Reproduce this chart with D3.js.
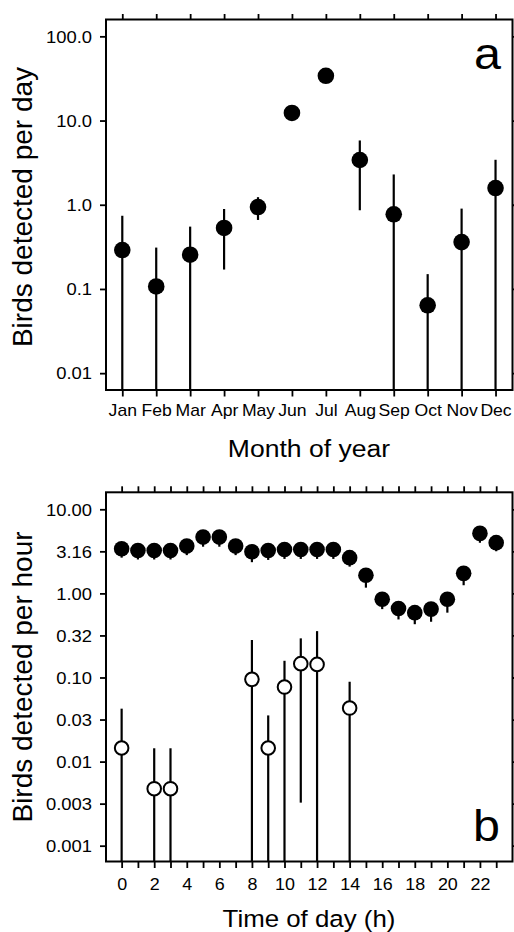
<!DOCTYPE html>
<html>
<head>
<meta charset="utf-8">
<script src="https://cdn.jsdelivr.net/npm/d3@7"></script>
<style>
  html, body { margin: 0; padding: 0; background: #fff; }
  svg { display: block; font-family: "Liberation Sans", Arial, Helvetica, sans-serif; }
</style>
</head>
<body>
<svg id="chart" width="514" height="932"></svg>
<script>
// ---------- Panel a data: birds detected per day by month ----------
const months = ["Jan","Feb","Mar","Apr","May","Jun","Jul","Aug","Sep","Oct","Nov","Dec"];
const dayMean  = [0.29, 0.107, 0.255, 0.53, 0.94, 12.3, 34, 3.4, 0.77, 0.064, 0.36, 1.58];
const dayUpper = [0.74, 0.31, 0.55, 0.89, 1.23, 13.5, 37, 5.8, 2.29, 0.15, 0.90, 3.42];
const dayLower = [0.0001, 0.0001, 0.0001, 0.17, 0.66, 11.2, 31, 0.86, 0.0001, 0.0001, 0.0001, 0.0001];
const dayTicks = [100, 10, 1, 0.1, 0.01];
const dayTickLabels = ["100.0", "10.0", "1.0", "0.1", "0.01"];

// ---------- Panel b data: birds detected per hour ----------
const hours = d3.range(0, 24);
const hourMean  = [3.40, 3.24, 3.24, 3.24, 3.65, 4.67, 4.67, 3.65, 3.13, 3.24, 3.33, 3.33,
                   3.33, 3.33, 2.66, 1.64, 0.85, 0.66, 0.59, 0.65, 0.85, 1.73, 5.17, 4.01];
const hourLower = [2.66, 2.53, 2.53, 2.53, 2.85, 3.59, 3.59, 2.85, 2.35, 2.50, 2.57, 2.57,
                   2.57, 2.57, 2.08, 1.17, 0.65, 0.49, 0.43, 0.46, 0.59, 1.25, 4.00, 3.17];
const hourUpper = [4.00, 3.80, 3.80, 3.80, 4.30, 5.50, 5.50, 4.30, 3.70, 3.80, 3.90, 3.90,
                   3.90, 3.90, 3.10, 1.90, 1.00, 0.78, 0.70, 0.77, 1.00, 2.00, 6.00, 4.70];
const openHours = [0, 2, 3, 8, 9, 10, 11, 12, 14];
const openMean  = [0.0145, 0.00476, 0.00476, 0.095, 0.0145, 0.077, 0.146, 0.143, 0.0433];
const openUpper = [0.0426, 0.0144, 0.0144, 0.279, 0.0354, 0.158, 0.292, 0.356, 0.089];
const openLower = [0.00001, 0.00001, 0.00001, 0.00001, 0.00001, 0.00001, 0.00325, 0.00001, 0.00001];
const hourTicks = [10, 3.1623, 1, 0.31623, 0.1, 0.031623, 0.01, 0.0031623, 0.001];
const hourTickLabels = ["10.00", "3.16", "1.00", "0.32", "0.10", "0.03", "0.01", "0.003", "0.001"];

const svg = d3.select("#chart");
const TICK_FS = 16;

function styleAxis(g) {
  g.select(".domain").remove();
  g.selectAll(".tick line").attr("stroke", "#000").attr("stroke-width", 1.8);
}
function leftLabels(g, labels) {
  g.selectAll(".tick text")
    .attr("x", null).attr("dy", "0.36em")
    .attr("transform", `translate(-14,0) scale(1.15,1)`)
    .attr("text-anchor", "end")
    .style("font-size", TICK_FS + "px").attr("fill", "#000")
    .text((d, i) => labels[i]);
}
function bottomLabels(g, off, sx) {
  g.selectAll(".tick text")
    .attr("y", null).attr("dy", null)
    .attr("transform", `translate(0,${off}) scale(${sx},1)`)
    .attr("text-anchor", "middle")
    .style("font-size", TICK_FS + "px").attr("fill", "#000");
}
function label(x, y, s, size, sx, rot, anchor) {
  svg.append("text")
    .attr("transform", `translate(${x},${y}) scale(${sx},1)` + (rot ? ` rotate(${rot})` : ""))
    .attr("text-anchor", anchor || "middle")
    .style("font-size", size + "px")
    .attr("fill", "#000")
    .text(s);
}

const L = 106, R = 512.5;

// ================= Panel a =================
(function () {
  const T = 19.5, B = 390;
  const x = d3.scaleLinear().domain([0.52, 12.5]).range([L, R]);
  const y = d3.scaleLog().domain([Math.pow(10, -2.2), Math.pow(10, 2.2)]).range([B, T]).clamp(true);
  const idx = d3.range(1, 13);

  svg.append("g").attr("transform", `translate(${L},0)`)
    .call(d3.axisLeft(y).tickValues(dayTicks).tickSize(6).tickSizeOuter(0))
    .call(styleAxis).call(g => leftLabels(g, dayTickLabels));
  svg.append("g").attr("transform", `translate(${R},0)`)
    .call(d3.axisRight(y).tickValues(dayTicks).tickSize(5).tickFormat(""))
    .call(styleAxis);
  svg.append("g").attr("transform", `translate(0,${T})`)
    .call(d3.axisTop(x).tickValues(idx).tickSize(5.5).tickFormat(""))
    .call(styleAxis);
  svg.append("g").attr("transform", `translate(0,${B})`)
    .call(d3.axisBottom(x).tickValues(idx).tickSize(6.5).tickFormat(i => months[i - 1]))
    .call(styleAxis).call(g => bottomLabels(g, 26, 1.1));

  svg.append("rect").attr("x", L).attr("y", T).attr("width", R - L).attr("height", B - T)
    .attr("fill", "none").attr("stroke", "#000").attr("stroke-width", 2);

  const data = months.map((m, i) => ({ i: i + 1, v: dayMean[i], lo: dayLower[i], hi: dayUpper[i] }));
  svg.append("g").selectAll("line").data(data).join("line")
    .attr("x1", d => x(d.i)).attr("x2", d => x(d.i))
    .attr("y1", d => y(d.lo)).attr("y2", d => y(d.hi))
    .attr("stroke", "#000").attr("stroke-width", 2.2);
  svg.append("g").selectAll("circle").data(data).join("circle")
    .attr("cx", d => x(d.i)).attr("cy", d => y(d.v)).attr("r", 8.3)
    .attr("fill", "#000");

  label(501, 69, "a", 44, 1.1, 0, "end");
  label(309, 457, "Month of year", 23.5, 1.13, 0, "middle");
  label(31.5, 207, "Birds detected per day", 28, 1.0, -90, "middle");
})();

// ================= Panel b =================
(function () {
  const T = 492.3, B = 861.5;
  const x = d3.scaleLinear().domain([-0.96, 24]).range([L, R]);
  const y = d3.scaleLog().domain([Math.pow(10, -3.188), Math.pow(10, 1.202)]).range([B, T]).clamp(true);

  svg.append("g").attr("transform", `translate(${L},0)`)
    .call(d3.axisLeft(y).tickValues(hourTicks).tickSize(6).tickSizeOuter(0))
    .call(styleAxis).call(g => leftLabels(g, hourTickLabels));
  svg.append("g").attr("transform", `translate(${R},0)`)
    .call(d3.axisRight(y).tickValues(hourTicks).tickSize(5).tickFormat(""))
    .call(styleAxis);
  svg.append("g").attr("transform", `translate(0,${T})`)
    .call(d3.axisTop(x).tickValues(hours).tickSize(6).tickFormat(""))
    .call(styleAxis);
  svg.append("g").attr("transform", `translate(0,${B})`)
    .call(d3.axisBottom(x).tickValues(hours).tickSize(6.5).tickFormat(h => h % 2 === 0 ? h : ""))
    .call(styleAxis).call(g => bottomLabels(g, 28.5, 1.12));

  svg.append("rect").attr("x", L).attr("y", T).attr("width", R - L).attr("height", B - T)
    .attr("fill", "none").attr("stroke", "#000").attr("stroke-width", 2);

  const filled = hours.map((h, i) => ({ h, v: hourMean[i], lo: hourLower[i], hi: hourUpper[i] }));
  const open = openHours.map((h, i) => ({ h, v: openMean[i], lo: openLower[i], hi: openUpper[i] }));

  svg.append("g").selectAll("line").data(filled.concat(open)).join("line")
    .attr("x1", d => x(d.h)).attr("x2", d => x(d.h))
    .attr("y1", d => y(d.lo)).attr("y2", d => y(d.hi))
    .attr("stroke", "#000").attr("stroke-width", 2.2);
  svg.append("g").selectAll("circle").data(filled).join("circle")
    .attr("cx", d => x(d.h)).attr("cy", d => y(d.v)).attr("r", 7.8)
    .attr("fill", "#000");
  svg.append("g").selectAll("circle").data(open).join("circle")
    .attr("cx", d => x(d.h)).attr("cy", d => y(d.v)).attr("r", 6.8)
    .attr("fill", "#fff").attr("stroke", "#000").attr("stroke-width", 2);

  label(500, 841, "b", 44, 1.1, 0, "end");
  label(309, 926.5, "Time of day (h)", 23.5, 1.1, 0, "middle");
  label(31.5, 677, "Birds detected per hour", 28, 1.0, -90, "middle");
})();
</script>
</body>
</html>
